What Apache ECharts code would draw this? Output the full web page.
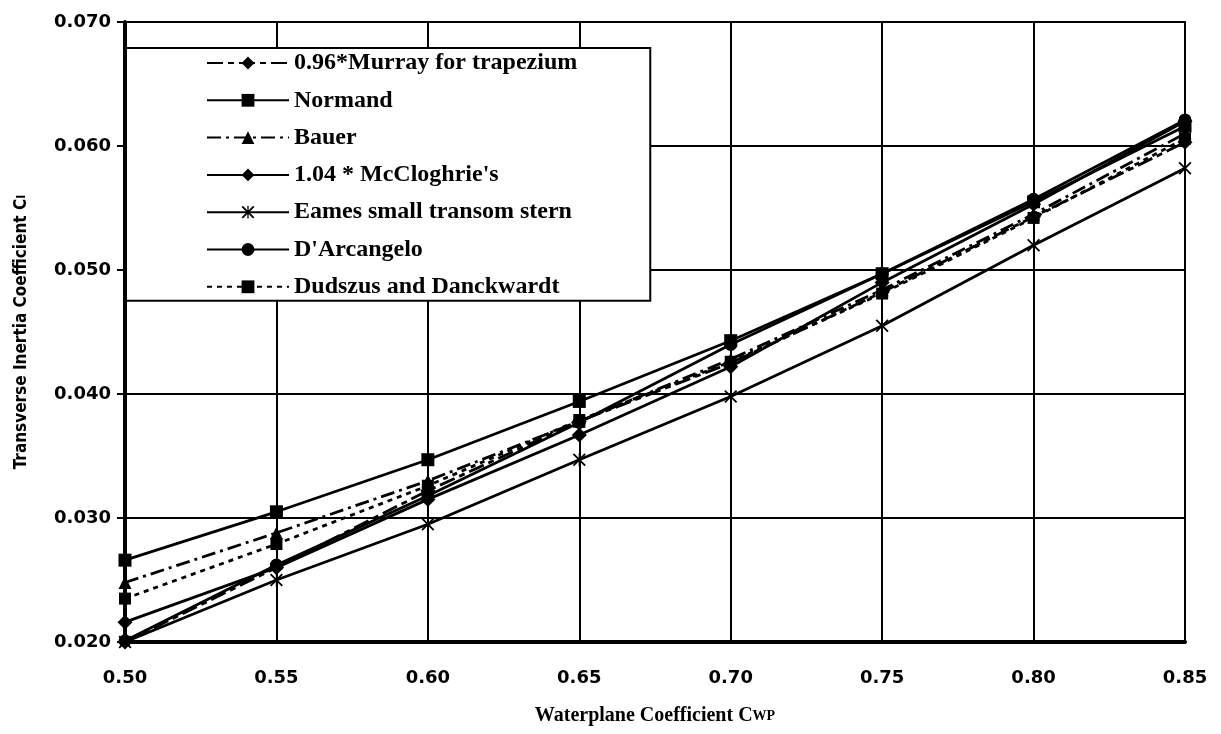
<!DOCTYPE html>
<html>
<head>
<meta charset="utf-8">
<script src="https://cdn.jsdelivr.net/npm/echarts@6/dist/echarts.min.js"></script>
<style>
  html, body { margin: 0; padding: 0; background: #fff; }
  #chart { width: 1221px; height: 734px; }
</style>
</head>
<body>
<div id="chart"></div>
<script>
  // waterplane coefficient (x)
  var cwp = [0.50, 0.55, 0.60, 0.65, 0.70, 0.75, 0.80, 0.85];

  // transverse inertia coefficient
  var murray     = [0.0200, 0.0260, 0.0322, 0.0378, 0.0425, 0.0482, 0.0543, 0.0603];
  var normand    = [0.0266, 0.0305, 0.0347, 0.0394, 0.0443, 0.0497, 0.0555, 0.0616];
  var bauer      = [0.0248, 0.0288, 0.0330, 0.0378, 0.0428, 0.0484, 0.0545, 0.0610];
  var mccloghrie = [0.0216, 0.0260, 0.0315, 0.0367, 0.0422, 0.0490, 0.0553, 0.0620];
  var eames      = [0.0200, 0.0250, 0.0295, 0.0347, 0.0398, 0.0455, 0.0520, 0.0582];
  var darcangelo = [0.0201, 0.0262, 0.0318, 0.0377, 0.0440, 0.0497, 0.0557, 0.0621];
  var dudszus    = [0.0235, 0.0279, 0.0326, 0.0379, 0.0426, 0.0481, 0.0542, 0.0606];

  var names = [
    '0.96*Murray for trapezium',
    'Normand',
    'Bauer',
    '1.04 * McCloghrie\'s',
    'Eames small transom stern',
    'D\'Arcangelo',
    'Dudszus and Danckwardt'
  ];

  var starPath = 'path://M0,2 L2,0 L10,8 L18,0 L20,2 L12,10 L20,18 L18,20 L10,12 L2,20 L0,18 L8,10 Z M9,0 L11,0 L11,20 L9,20 Z';

  function pairs (ys) {
    return cwp.map(function (x, i) { return [x, ys[i]] })
  }

  function line (name, ys, symbol, size, dash) {
    return {
      name: name,
      type: 'line',
      data: pairs(ys),
      symbol: symbol,
      symbolSize: size,
      showSymbol: true,
      itemStyle: { color: '#000' },
      lineStyle: { color: '#000', width: 2.8, type: dash },
      z: 3
    }
  }

  var chart = echarts.init(document.getElementById('chart'))

  var option = {
    animation: false,
    backgroundColor: '#fff',
    grid: {
      left: 125, right: 36, top: 22, bottom: 92,
      show: true, borderColor: '#000', borderWidth: 2
    },
    legend: {
      orient: 'vertical',
      left: 126, top: 48,
      padding: [3, 73, 2, 80],
      itemWidth: 82, itemHeight: 16, itemGap: 13.3,
      backgroundColor: '#fff',
      borderColor: '#000', borderWidth: 2,
      textStyle: { fontFamily: 'Liberation Serif', fontWeight: 'bold', fontSize: 24, color: '#000' },
      data: names
    },
    xAxis: {
      type: 'value',
      min: 0.5, max: 0.85, interval: 0.05,
      name: 'Waterplane Coefficient C{s|WP}',
      nameLocation: 'middle',
      nameGap: 64,
      nameTextStyle: {
        fontFamily: 'Liberation Serif', fontWeight: 'bold', fontSize: 20, color: '#000',
        rich: { s: { fontFamily: 'Liberation Serif', fontWeight: 'bold', fontSize: 14, color: '#000' } }
      },
      axisLine: { lineStyle: { color: '#000', width: 4 } },
      axisTick: { show: false },
      axisLabel: {
        margin: 27, color: '#000', fontFamily: 'DejaVu Sans', fontWeight: 'bold', fontSize: 18,
        formatter: function (v) { return v.toFixed(2) }
      },
      splitLine: { show: true, lineStyle: { color: '#000', width: 2 } }
    },
    yAxis: {
      type: 'value',
      min: 0.02, max: 0.07, interval: 0.01,
      name: 'Transverse Inertia Coefficient C{s|I}',
      nameLocation: 'middle',
      nameGap: 95,
      nameTextStyle: {
        fontFamily: 'DejaVu Sans Condensed', fontWeight: 'bold', fontSize: 17, color: '#000',
        rich: { s: { fontFamily: 'DejaVu Sans Condensed', fontWeight: 'bold', fontSize: 12, color: '#000' } }
      },
      axisLine: { lineStyle: { color: '#000', width: 4 } },
      axisTick: { show: true, inside: false, length: 8, lineStyle: { color: '#000', width: 2 } },
      axisLabel: {
        margin: 14, color: '#000', fontFamily: 'DejaVu Sans', fontWeight: 'bold', fontSize: 18,
        formatter: function (v) { return v.toFixed(3) }
      },
      splitLine: { show: true, lineStyle: { color: '#000', width: 2 } }
    },
    series: [
      line(names[0], murray, 'diamond', 15, [16, 5, 6, 5]),
      line(names[1], normand, 'rect', 13, 'solid'),
      line(names[2], bauer, 'triangle', 13, [14, 5, 3, 5]),
      line(names[3], mccloghrie, 'diamond', 15, 'solid'),
      line(names[4], eames, starPath, 13, 'solid'),
      line(names[5], darcangelo, 'circle', 13, 'solid'),
      line(names[6], dudszus, 'rect', 12, [5, 5])
    ]
  }

  option && chart.setOption(option)
</script>
</body>
</html>
